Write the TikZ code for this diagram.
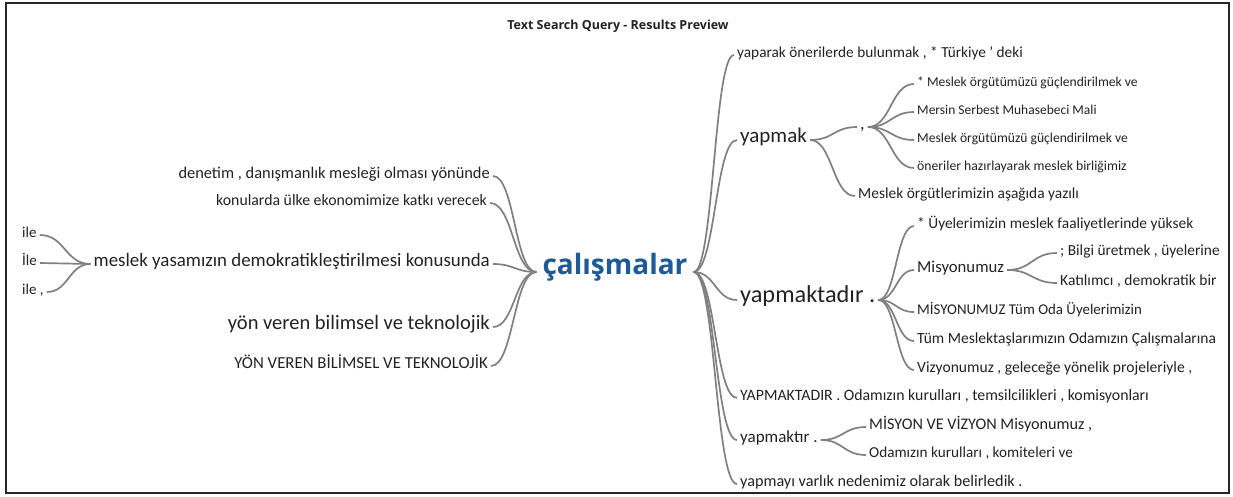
\documentclass[tikz,border=0pt]{standalone}
\usepackage{fontspec}
\setmainfont{Carlito}
\newfontfamily\titlefont{Open Sans}
\usetikzlibrary{calc}
\definecolor{rootblue}{HTML}{1F5A96}
\definecolor{conngray}{HTML}{808080}
\definecolor{txtc}{HTML}{222222}
\begin{document}
\begin{tikzpicture}[x=1pt,y=-1pt,
  conn/.style={draw=conngray, line width=1.7pt,
    to path={let \p1=(\tikztostart), \p2=(\tikztotarget) in
      .. controls ({0.5*\x1+0.5*\x2},\y1) and ({0.5*\x1+0.5*\x2},\y2) .. (\tikztotarget)}},
  t/.style={inner xsep=3pt, inner ysep=1pt, text=txtc, font=\fontsize{#1}{#1}\selectfont},
  rootst/.style={inner xsep=6pt, inner ysep=1pt, text=rootblue, font=\titlefont\bfseries\fontsize{28}{32}\selectfont},
  rw/.style={anchor=mid west},
  le/.style={anchor=mid east}]
\useasboundingbox (0,0) rectangle (1233,496);
\draw[line width=1.2pt, black!85] (6,3) rectangle (1229,493);
\node[font=\titlefont\bfseries\fontsize{12.5}{14}\selectfont, text=txtc] (title) at (618,26) {Text Search Query - Results Preview};
% root
\node[rootst, anchor=mid] (root) at (615,272) {çalışmalar};
% left side
\node[t=16.4, le] (l1) at (493,176) {denetim , danışmanlık mesleği olması yönünde};
\node[t=15.8, le] (l2) at (490,203) {konularda ülke ekonomimize katkı verecek};
\node[t=18.9, le] (l3) at (493,264) {meslek yasamızın demokratikleştirilmesi konusunda};
\node[t=20.5, le] (l4) at (493,327) {yön veren bilimsel ve teknolojik};
\node[t=16.8, le] (l5) at (491,366) {YÖN VEREN BİLİMSEL VE TEKNOLOJİK};
\node[t=15, rw] (i1) at (19,235) {ile};
\node[t=15, rw] (i2) at (19,263) {İle};
\node[t=15, rw] (i3) at (19,292) {ile ,};
% right side
\node[t=15.3, rw] (r1) at (734,55) {yaparak önerilerde bulunmak , * Türkiye ' deki};
\node[t=21, rw] (r2) at (737,140) {yapmak};
\node[t=18, rw] (cm) at (857,127) {,};
\node[t=13.6, rw] (c1) at (914,84) {* Meslek örgütümüzü güçlendirilmek ve};
\node[t=13.5, rw] (c2) at (914,112) {Mersin Serbest Muhasebeci Mali};
\node[t=13.6, rw] (c3) at (914,140) {Meslek örgütümüzü güçlendirilmek ve};
\node[t=13.7, rw] (c4) at (914,168) {öneriler hazırlayarak meslek birliğimiz};
\node[t=15.4, rw] (r2b) at (855,196) {Meslek örgütlerimizin aşağıda yazılı};
\node[t=24.3, rw] (r3) at (737,300) {yapmaktadır .};
\node[t=15.4, rw] (d1) at (914,226) {* Üyelerimizin meslek faaliyetlerinde yüksek};
\node[t=16.7, rw] (d2) at (914,270) {Misyonumuz};
\node[t=15.4, rw] (m1) at (1057,253) {; Bilgi üretmek , üyelerine};
\node[t=15.5, rw] (m2) at (1057,283) {Katılımcı , demokratik bir};
\node[t=14.9, rw] (d3) at (914,312) {MİSYONUMUZ Tüm Oda Üyelerimizin};
\node[t=15.5, rw] (d4) at (914,341) {Tüm Meslektaşlarımızın Odamızın Çalışmalarına};
\node[t=15.6, rw] (d5) at (914,370) {Vizyonumuz , geleceğe yönelik projeleriyle ,};
\node[t=15.8, rw] (r4) at (737,398) {YAPMAKTADIR . Odamızın kurulları , temsilcilikleri , komisyonları};
\node[t=17, rw] (r5) at (737,440) {yapmaktır .};
\node[t=16.2, rw] (y1) at (866,427) {MİSYON VE VİZYON Misyonumuz ,};
\node[t=15.2, rw] (y2) at (866,455) {Odamızın kurulları , komiteleri ve};
\node[t=16.2, rw] (r6) at (737,484) {yapmayı varlık nedenimiz olarak belirledik .};
% connectors left
\foreach \nm in {l1,l2,l3,l4,l5} \draw[conn] (\nm.mid east) to (root.mid west);
\foreach \nm in {i1,i2,i3} \draw[conn] (\nm.mid east) to (l3.mid west);
% connectors right
\foreach \nm in {r1,r2,r3,r4,r5,r6} \draw[conn] (root.mid east) to (\nm.mid west);
\foreach \nm in {cm,r2b} \draw[conn] (r2.mid east) to (\nm.mid west);
\foreach \nm in {c1,c2,c3,c4} \draw[conn] (cm.mid east) to (\nm.mid west);
\foreach \nm in {d1,d2,d3,d4,d5} \draw[conn] (r3.mid east) to (\nm.mid west);
\foreach \nm in {m1,m2} \draw[conn] (d2.mid east) to (\nm.mid west);
\foreach \nm in {y1,y2} \draw[conn] (r5.mid east) to (\nm.mid west);
\end{tikzpicture}
\end{document}
